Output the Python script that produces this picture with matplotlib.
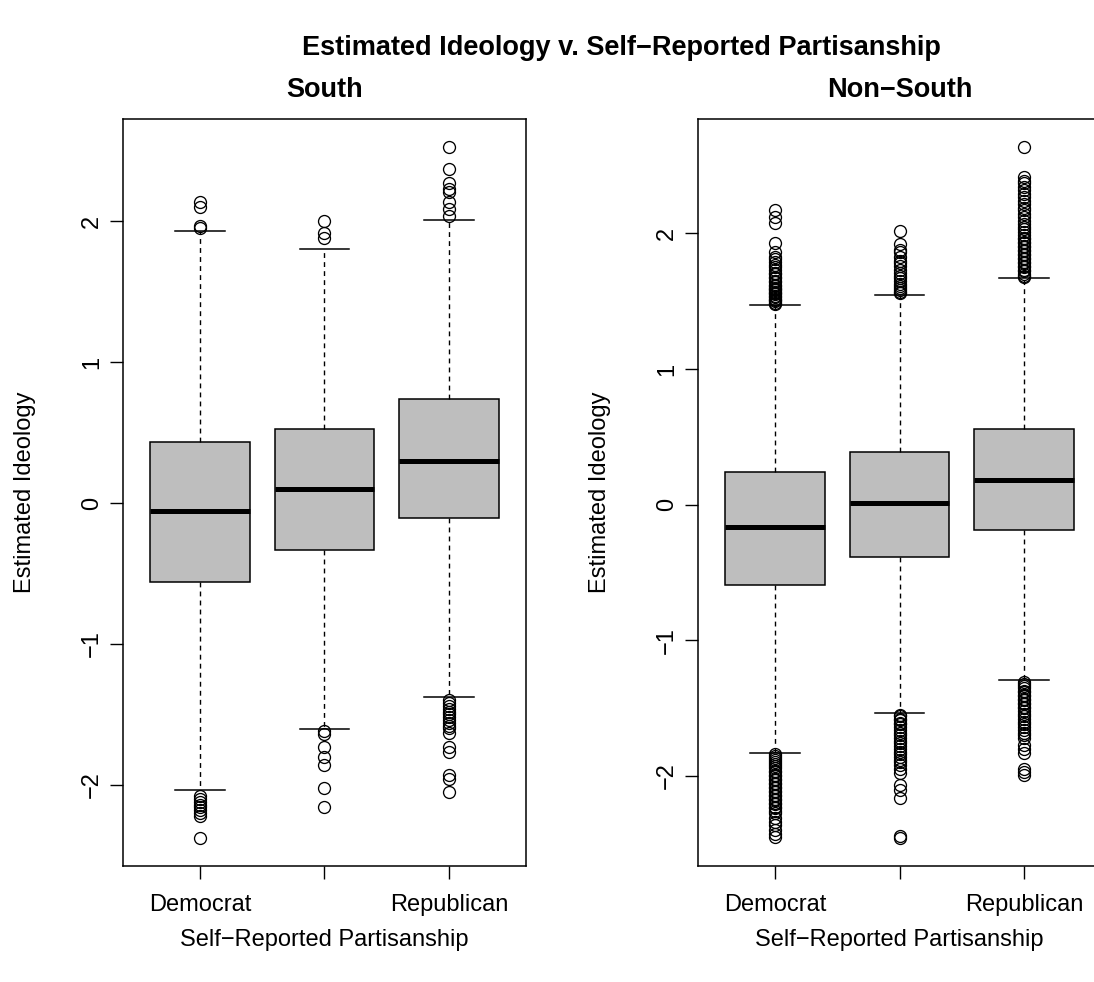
import matplotlib
matplotlib.use("Agg")
import matplotlib.pyplot as plt

plt.rcParams["font.family"] = ["Liberation Sans", "DejaVu Sans"]

# Party categories along the x axis (the middle label is suppressed, as R drops it)
tick_labels = ["Democrat", "", "Republican"]
panel_titles = ["South", "Non\u2212South"]

# ---- South: box statistics per party (Democrat, Independent, Republican)
south_q1 = [-0.563, -0.331, -0.106]
south_med = [-0.057, 0.099, 0.298]
south_q3 = [0.435, 0.525, 0.738]
south_whislo = [-2.04, -1.605, -1.374]
south_whishi = [1.934, 1.806, 2.007]
south_out_dem = [2.14, 2.10, 1.97, 1.95,
                 -2.08, -2.10, -2.12, -2.14, -2.16, -2.18, -2.20, -2.22, -2.38]
south_out_ind = [2.00, 1.92, 1.88,
                 -1.62, -1.64, -1.73, -1.80, -1.86, -2.02, -2.16]
south_out_rep = [2.53, 2.37, 2.27, 2.23, 2.21, 2.14, 2.09, 2.04,
                 -1.40, -1.42, -1.44, -1.46, -1.48, -1.50, -1.52, -1.54, -1.56,
                 -1.58, -1.60, -1.63, -1.73, -1.77, -1.93, -1.96, -2.05]

# ---- Non-South
nonsouth_q1 = [-0.590, -0.386, -0.185]
nonsouth_med = [-0.167, 0.012, 0.179]
nonsouth_q3 = [0.239, 0.389, 0.556]
nonsouth_whislo = [-1.828, -1.533, -1.294]
nonsouth_whishi = [1.476, 1.545, 1.668]
nonsouth_out_dem = [2.17, 2.12, 2.08, 1.93, 1.86, 1.83, 1.81, 1.79, 1.77, 1.75,
                    1.73, 1.71, 1.70, 1.68, 1.67, 1.65, 1.64, 1.62, 1.61, 1.60,
                    1.59, 1.58, 1.57, 1.56, 1.55, 1.54, 1.53, 1.52, 1.51, 1.50,
                    1.49, 1.48,
                    -1.84, -1.85, -1.87, -1.88, -1.90, -1.91, -1.93, -1.94, -1.96,
                    -1.97, -1.99, -2.00, -2.02, -2.03, -2.05, -2.06, -2.08, -2.09,
                    -2.11, -2.12, -2.14, -2.15, -2.17, -2.18, -2.20, -2.21, -2.23,
                    -2.24, -2.26, -2.27, -2.31, -2.34, -2.36, -2.40, -2.43, -2.45]
nonsouth_out_ind = [2.02, 1.92, 1.88, 1.86, 1.83, 1.80, 1.78, 1.76, 1.73, 1.71,
                    1.69, 1.67, 1.65, 1.63, 1.61, 1.60, 1.58, 1.57, 1.56,
                    -1.55, -1.56, -1.58, -1.59, -1.61, -1.62, -1.64, -1.66, -1.68,
                    -1.70, -1.72, -1.74, -1.76, -1.78, -1.80, -1.82, -1.84, -1.86,
                    -1.88, -1.90, -1.92, -1.95, -1.98, -2.07, -2.10, -2.16,
                    -2.44, -2.46]
nonsouth_out_rep = [2.64, 2.42, 2.39, 2.37, 2.34, 2.32, 2.29, 2.27, 2.24, 2.22,
                    2.19, 2.17, 2.14, 2.12, 2.09, 2.07, 2.05, 2.03, 2.01, 1.99,
                    1.97, 1.96, 1.94, 1.93, 1.91, 1.90, 1.88, 1.87, 1.85, 1.84,
                    1.82, 1.81, 1.79, 1.78, 1.76, 1.75, 1.73, 1.72, 1.70, 1.69,
                    1.68,
                    -1.31, -1.32, -1.34, -1.35, -1.37, -1.38, -1.40, -1.41, -1.43,
                    -1.44, -1.46, -1.47, -1.49, -1.50, -1.52, -1.54, -1.56, -1.58,
                    -1.60, -1.62, -1.64, -1.66, -1.68, -1.70, -1.72, -1.77, -1.80,
                    -1.83, -1.95, -1.97, -1.99]


def make_stats(q1, med, q3, lo, hi, outs):
    return [dict(q1=a, med=m, q3=b, whislo=l, whishi=h, fliers=f)
            for a, m, b, l, h, f in zip(q1, med, q3, lo, hi, outs)]


panels = [
    make_stats(south_q1, south_med, south_q3, south_whislo, south_whishi,
               [south_out_dem, south_out_ind, south_out_rep]),
    make_stats(nonsouth_q1, nonsouth_med, nonsouth_q3, nonsouth_whislo,
               nonsouth_whishi,
               [nonsouth_out_dem, nonsouth_out_ind, nonsouth_out_rep]),
]

W, H = 1094, 982
fig = plt.figure(figsize=(W / 100, H / 100), dpi=100)

TICK_FS = 17
LAB_FS = 17
TITLE_FS = 19.5

axes_px = [(123, 119, 403, 747), (698, 119, 403, 747)]

for (x0, y0, w, h), stats, ptitle in zip(axes_px, panels, panel_titles):
    ax = fig.add_axes([x0 / W, (H - y0 - h) / H, w / W, h / H])
    ax.bxp(stats, positions=[1, 2, 3], widths=0.8, patch_artist=True,
           showfliers=True,
           boxprops=dict(facecolor="#BEBEBE", edgecolor="black", linewidth=1.1),
           medianprops=dict(color="black", linewidth=3.6, solid_capstyle="butt"),
           whiskerprops=dict(color="black", linewidth=1.0,
                             linestyle=(0, (3.5, 3.0))),
           capprops=dict(color="black", linewidth=1.1),
           flierprops=dict(marker="o", markerfacecolor="none",
                           markeredgecolor="black", markersize=8.6,
                           markeredgewidth=0.95, linestyle="none"))
    ax.set_xlim(0.38, 3.62)
    ax.autoscale(axis="y")
    ax.margins(y=0.04)
    ax.set_xticks([1, 2, 3])
    ax.set_xticklabels(tick_labels)
    ax.set_yticks([-2, -1, 0, 1, 2])
    ax.tick_params(axis="both", direction="out", length=9.4, width=1.0,
                   labelsize=TICK_FS)
    ax.tick_params(axis="x", pad=11)
    ax.tick_params(axis="y", pad=5, labelrotation=90)
    for lbl in ax.get_yticklabels():
        lbl.set_va("center")
    for sp in ax.spines.values():
        sp.set_linewidth(1.1)
    cx = (x0 + w / 2) / W
    fig.text(cx, 1 - 90 / H, ptitle, ha="center", va="center",
             fontsize=TITLE_FS, fontweight="bold")
    fig.text(cx, 1 - 940 / H, "Self\u2212Reported Partisanship", ha="center",
             va="center", fontsize=LAB_FS)
    fig.text((x0 - 98) / W, 1 - (y0 + h / 2) / H, "Estimated Ideology",
             ha="center", va="center", rotation=90, fontsize=LAB_FS)

fig.text(621 / W, 1 - 48 / H,
         "Estimated Ideology v. Self\u2212Reported Partisanship",
         ha="center", va="center", fontsize=TITLE_FS, fontweight="bold")

fig.savefig("out.png", dpi=100)
